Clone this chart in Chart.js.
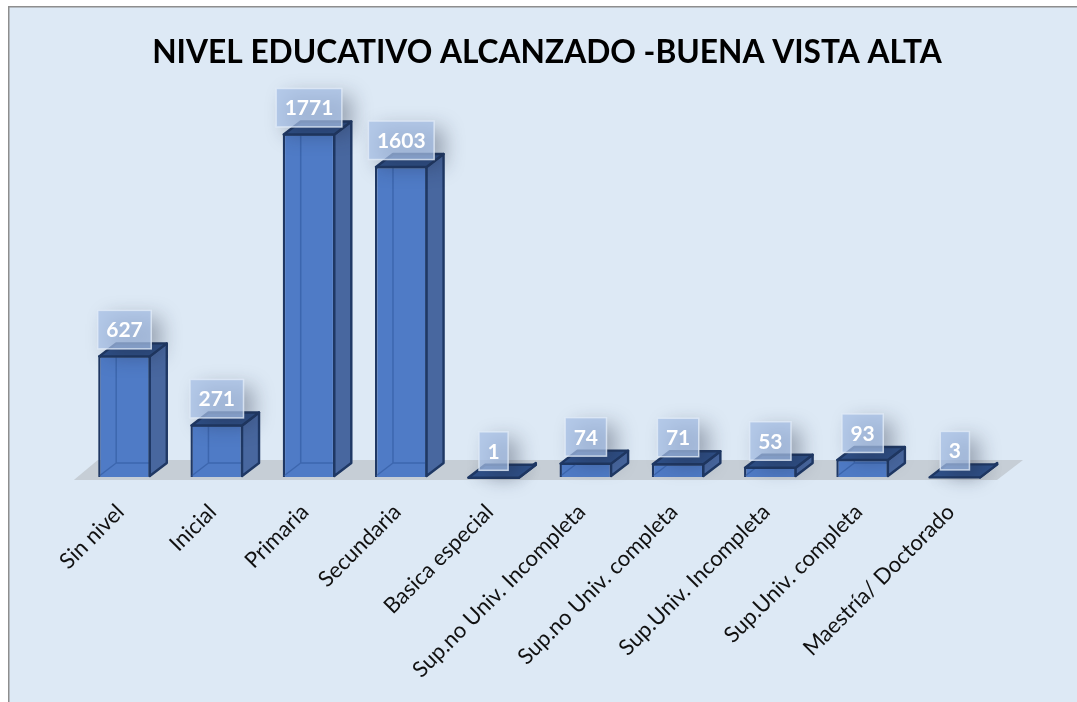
<!DOCTYPE html>
<html><head><meta charset="utf-8">
<style>
html,body{margin:0;padding:0;background:#fff;width:1077px;height:702px;overflow:hidden}
#w{position:absolute;left:8px;top:6px;width:1078px;height:696px}
</style>
<script src="https://cdn.jsdelivr.net/npm/chart.js@4"></script>
</head><body><div id="w"><canvas id="c" width="1078" height="696"></canvas></div>
<script>
const chartTitle = 'NIVEL EDUCATIVO ALCANZADO -BUENA VISTA ALTA';
const categories = ['Sin nivel','Inicial','Primaria','Secundaria','Basica especial','Sup.no Univ. Incompleta','Sup.no Univ. completa','Sup.Univ. Incompleta','Sup.Univ. completa','Maestría/ Doctorado'];
const values = [627,271,1771,1603,1,74,71,53,93,3];
const DX = 17, DY = -13;
const EDGE = '#1f3864';
const FONT = 'Lato, "Open Sans", sans-serif';

const bg = { id:'bg', beforeDraw(ch){
  const c = ch.ctx; c.save();
  c.fillStyle = '#dde9f5'; c.fillRect(0,0,ch.width,ch.height);
  c.fillStyle = '#8e8e8e'; c.fillRect(0,0,ch.width,1.5); c.fillRect(0,0,1.5,ch.height);
  c.restore();
}};
const poly = (c,p)=>{c.beginPath();p.forEach((q,i)=>i?c.lineTo(q[0],q[1]):c.moveTo(q[0],q[1]));c.closePath();};
const box3d = {
  id:'box3d',
  beforeDatasetsDraw(ch){
    const c = ch.ctx, a = ch.chartArea, els = ch.getDatasetMeta(0).data;
    c.save();
    c.fillStyle = '#c6ced6';
    const y0=a.bottom+3, y1=a.bottom-17;
    poly(c,[[a.left-4.5,y0],[a.left+19.5,y1],[a.right+22,y1],[a.right-4,y0]]); c.fill();
    c.restore();
    els.forEach(b=>{
      const hw=b.width/2,l=b.x-hw,r=b.x+hw,t=b.y,bt=b.base;
      c.save();
      c.shadowColor='rgba(40,50,70,.45)'; c.shadowBlur=12; c.shadowOffsetY=3;
      c.fillStyle='rgba(60,80,120,.2)';
      if(bt-t<6){poly(c,[[l,bt],[r,bt],[r+DX,bt+DY],[l+DX,bt+DY]]);c.fill();}
      c.restore();
    });
  },
  afterDatasetsDraw(ch){
    const c = ch.ctx, els = ch.getDatasetMeta(0).data;
    els.forEach(b=>{
      const hw=b.width/2,l=b.x-hw+1,r=b.x+hw-1,t=b.y+1,bt=b.base-1;
      c.save();
      c.lineJoin='round';
      c.strokeStyle='rgba(45,85,155,.55)'; c.lineWidth=1.5;
      if(bt-t>4){
        c.beginPath();
        c.moveTo(l,bt);c.lineTo(l+DX,bt+DY);c.lineTo(r+DX,bt+DY);
        c.moveTo(l+DX,bt+DY);c.lineTo(l+DX,t+DY);
        c.stroke();
      }
      c.fillStyle='#48679f'; c.strokeStyle=EDGE; c.lineWidth=2.4;
      poly(c,[[r,bt],[r+DX,bt+DY],[r+DX,t+DY],[r,t]]); c.fill(); c.stroke();
      c.fillStyle='#2f5088';
      poly(c,[[l,t],[r,t],[r+DX,t+DY],[l+DX,t+DY]]); c.fill(); c.stroke();
      c.restore();
    });
    els.forEach((b,i)=>{
      const txt=String(values[i]);
      c.save();
      c.font='bold 21px '+FONT;
      const tw=c.measureText(txt).width, w=Math.max(tw+17,29), h=38.5;
      const x=b.x-w/2, yb=b.y-6.5, y=yb-h;
      c.save();
      c.shadowColor='rgba(30,40,60,.5)'; c.shadowBlur=20; c.shadowOffsetX=10; c.shadowOffsetY=7;
      c.fillStyle='rgba(165,190,228,.72)'; c.fillRect(x,y,w,h);
      c.restore();
      c.strokeStyle='rgba(225,235,248,.8)'; c.lineWidth=1.5; c.strokeRect(x,y,w,h);
      c.fillStyle='#fff'; c.textAlign='center'; c.textBaseline='middle';
      c.fillText(txt,b.x,y+h/2+1);
      c.restore();
    });
  }
};

new Chart(document.getElementById('c'),{
  type:'bar',
  data:{labels:categories,datasets:[{
    data:values,
    backgroundColor:'#4f7bc6',
    borderColor:EDGE,borderWidth:2.4,
    barPercentage:.57,categoryPercentage:1
  }]},
  plugins:[bg,box3d],
  options:{
    responsive:false,animation:false,
    layout:{padding:{left:70.35,right:70.35,top:0,bottom:0}},
    plugins:{
      legend:{display:false},tooltip:{enabled:false},
      title:{display:true,text:chartTitle,color:'#000',
        font:{family:FONT,size:31.7,weight:'bold',lineHeight:1.2},
        padding:{top:28,bottom:17}}
    },
    scales:{
      y:{position:'right',min:0,max:2000,
        grid:{display:false},border:{display:false},ticks:{display:false},
        afterFit(s){s.width=14.65;}},
      x:{
        grid:{display:false},border:{display:false},
        ticks:{autoSkip:false,minRotation:45,maxRotation:45,color:'#111',padding:14,labelOffset:-4,
          font:{family:FONT,size:22}},
        afterFit(s){s.height=225;}
      }
    }
  }
});
</script></body></html>
